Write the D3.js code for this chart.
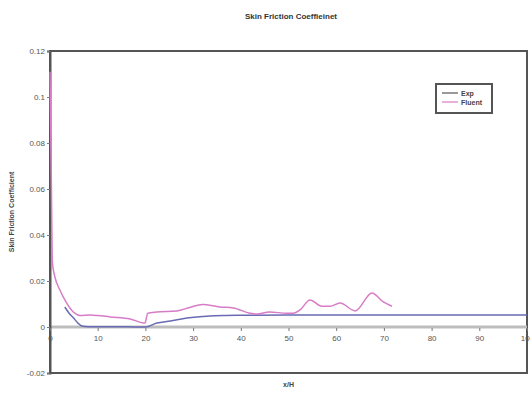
<!DOCTYPE html>
<html>
<head>
<meta charset="utf-8">
<script src="https://cdn.jsdelivr.net/npm/d3@7/dist/d3.min.js"></script>
<style>
  body { margin: 0; background: #fff; }
  svg { display: block; font-family: "Liberation Sans", Arial, sans-serif; }
</style>
</head>
<body>
<div id="chart"></div>
<script>
// data
const expX = [3.1, 4.0, 4.9, 5.8, 6.7, 8, 12, 16, 20, 22.4, 25.2, 28.7, 30.8, 33.5, 36.3, 40, 50, 60, 70, 80, 90, 100];
const expY = [0.0087, 0.006, 0.004, 0.0018, 0.0004, 0.0001, 0.0001, 0.0001, 0.0, 0.0017, 0.0026, 0.0039, 0.0044, 0.0048, 0.005, 0.0051, 0.0052, 0.0052, 0.0052, 0.0052, 0.0052, 0.0052];

const fluentX = [0, 0.3, 0.5, 1, 2.1, 3.5, 4.9, 6.3, 8.4, 10, 12.6, 16.8, 19.9, 20.5, 22.4, 26.6, 29.3, 32, 35.6, 38.4, 41.9, 43.4, 46, 49.7, 51, 52.4, 54.5, 57, 58.7, 60.8, 64, 67.5, 69.8, 71.7];
const fluentY = [0.111, 0.06, 0.028, 0.022, 0.016, 0.0104, 0.0065, 0.005, 0.0052, 0.005, 0.0044, 0.0035, 0.0017, 0.006, 0.0065, 0.007, 0.0085, 0.0098, 0.0087, 0.0083, 0.006, 0.0056, 0.0065, 0.006, 0.006, 0.0074, 0.0117, 0.009, 0.009, 0.0104, 0.007, 0.0148, 0.011, 0.009];

const xTicks = [0, 10, 20, 30, 40, 50, 60, 70, 80, 90, 100];
const yTicks = [-0.02, 0, 0.02, 0.04, 0.06, 0.08, 0.1, 0.12];
const seriesNames = ['Exp', 'Fluent'];
const seriesColors = ['#6a6ab4', '#d77cc6'];

const W = 530, H = 393;
const margin = { top: 51, right: 3, bottom: 20, left: 50 };

const x = d3.scaleLinear().domain([0, 100]).range([margin.left, W - margin.right]);
const y = d3.scaleLinear().domain([-0.02, 0.12]).range([H - margin.bottom, margin.top]);

const svg = d3.select('#chart').append('svg')
  .attr('width', W)
  .attr('height', H);

// title
svg.append('text')
  .attr('x', 291).attr('y', 19)
  .attr('text-anchor', 'middle')
  .style('font-size', '8px').style('font-weight', 'bold').style('fill', '#333')
  .text('Skin Friction Coeffieinet');

// frame
svg.append('rect')
  .attr('x', x(0)).attr('y', y(0.12))
  .attr('width', x(100) - x(0)).attr('height', y(-0.02) - y(0.12))
  .attr('fill', 'none').attr('stroke', '#555').attr('stroke-width', 2);

// zero line
svg.append('line')
  .attr('x1', x(0)).attr('x2', x(100))
  .attr('y1', y(0)).attr('y2', y(0))
  .attr('stroke', '#bdbdbd').attr('stroke-width', 3);

// y axis
const yAxis = d3.axisLeft(y).tickValues(yTicks).tickSize(3)
  .tickFormat(d => d === 0 ? '0' : String(+d.toFixed(2)));
svg.append('g')
  .attr('class', 'y axis')
  .attr('transform', 'translate(' + x(0) + ',0)')
  .call(yAxis)
  .call(g => g.select('.domain').attr('stroke', '#555').attr('stroke-width', 2))
  .call(g => g.selectAll('.tick line').attr('stroke', '#777'))
  .call(g => g.selectAll('.tick text').style('font-size', '8px').style('fill', '#555').attr('x', -5));

// x axis on zero line
const xAxis = d3.axisBottom(x).tickValues(xTicks).tickSize(3).tickFormat(d3.format('d'));
svg.append('g')
  .attr('class', 'x axis')
  .attr('transform', 'translate(0,' + (y(0) + 1) + ')')
  .call(xAxis)
  .call(g => g.select('.domain').remove())
  .call(g => g.selectAll('.tick line').attr('stroke', '#777'))
  .call(g => g.selectAll('.tick text').style('font-size', '8px').style('fill', '#555').attr('y', 7));

// axis titles
svg.append('text')
  .attr('transform', 'translate(14,' + ((y(0.12) + y(-0.02)) / 2) + ') rotate(-90)')
  .attr('text-anchor', 'middle')
  .style('font-size', '7px').style('font-weight', 'bold').style('fill', '#444')
  .text('Skin Friction Coefficient');

svg.append('text')
  .attr('x', (x(0) + x(100)) / 2).attr('y', 387)
  .attr('text-anchor', 'middle')
  .style('font-size', '7px').style('font-weight', 'bold').style('fill', '#444')
  .text('x/H');

// series
const line = d3.line().x(d => x(d[0])).y(d => y(d[1])).curve(d3.curveMonotoneX);
const series = [d3.zip(expX, expY), d3.zip(fluentX, fluentY)];

svg.selectAll('.series')
  .data(series)
  .enter()
  .append('path')
  .attr('class', 'series')
  .attr('d', line)
  .attr('fill', 'none')
  .attr('stroke', (d, i) => seriesColors[i])
  .attr('stroke-width', 1.5);

// legend
const lg = svg.append('g').attr('transform', 'translate(436,84)');
lg.append('rect')
  .attr('width', 56).attr('height', 29)
  .attr('fill', '#fff').attr('stroke', '#555').attr('stroke-width', 2);
seriesNames.forEach((name, i) => {
  lg.append('line')
    .attr('x1', 6).attr('x2', 22)
    .attr('y1', 9 + i * 9).attr('y2', 9 + i * 9)
    .attr('stroke', i === 0 ? '#555' : seriesColors[i]).attr('stroke-width', 1.2);
  lg.append('text')
    .attr('x', 25).attr('y', 11.5 + i * 9)
    .style('font-size', '7px').style('font-weight', 'bold').style('fill', '#444')
    .text(name);
});
</script>
</body>
</html>
